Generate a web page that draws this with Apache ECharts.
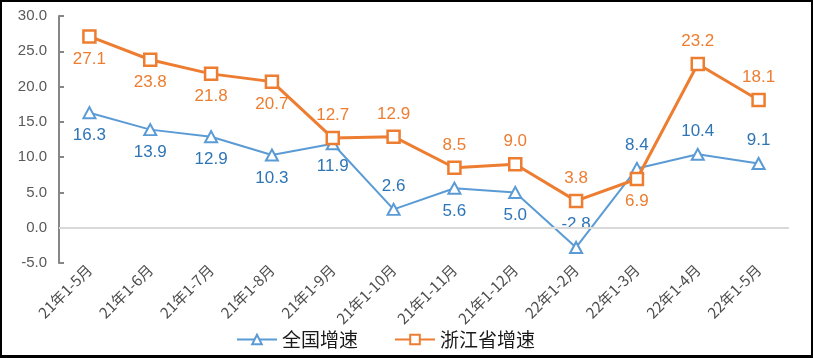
<!DOCTYPE html>
<html>
<head>
<meta charset="utf-8">
<script src="https://cdn.jsdelivr.net/npm/echarts@6/dist/echarts.min.js"></script>
<style>
html,body{margin:0;padding:0;background:#fff;}
#wrap{position:relative;width:813px;height:358px;}
#c{position:absolute;left:0;top:0;width:813px;height:358px;}
#frame{position:absolute;left:0;top:0;width:813px;height:358px;box-sizing:border-box;border:2px solid #000;border-bottom-width:3px;pointer-events:none;}
</style>
</head>
<body>
<div id="wrap"><div id="c"></div><div id="frame"></div></div>
<script>
const categories = ['21年1-5月','21年1-6月','21年1-7月','21年1-8月','21年1-9月','21年1-10月','21年1-11月','21年1-12月','22年1-2月','22年1-3月','22年1-4月','22年1-5月'];
const nationalGrowth = [16.3, 13.9, 12.9, 10.3, 11.9, 2.6, 5.6, 5.0, -2.8, 8.4, 10.4, 9.1];
const zhejiangGrowth = [27.1, 23.8, 21.8, 20.7, 12.7, 12.9, 8.5, 9.0, 3.8, 6.9, 23.2, 18.1];
const seriesNames = ['全国增速', '浙江省增速'];

// label placement (styling)
const blueLabelPlace = ['bottom','bottom','bottom','bottom','bottom','top','bottom','bottom','top','top','top','top'];
const orangeLabelPlace = ['bottom','bottom','bottom','bottom','top','top','top','top','top','bottom','top','top'];

const numFont = '"Liberation Sans", Arial, sans-serif';
const cjkFont = '"Noto Sans CJK SC", sans-serif';

function withLabels(values, places) {
  return values.map((v, i) => ({
    value: v,
    label: { position: places[i] }
  }));
}

const chart = echarts.init(document.getElementById('c'), null, { renderer: 'canvas' });
chart.setOption({
  animation: false,
  backgroundColor: '#fff',
  grid: { left: 59, right: 24, top: 16, bottom: 95 },
  legend: {
    left: 231, top: 325,
    itemWidth: 40, itemHeight: 12, itemGap: 36,
    textStyle: { fontFamily: cjkFont, fontSize: 19, color: '#1a1a1a' },
    data: seriesNames
  },
  xAxis: {
    type: 'category',
    data: categories,
    boundaryGap: true,
    axisLine: { show: false, onZero: false },
    axisTick: { show: false },
    axisLabel: { rotate: 45, margin: 4, fontFamily: cjkFont, fontSize: 15, color: '#4d4d4d', interval: 0 }
  },
  yAxis: {
    type: 'value',
    min: -5, max: 30, interval: 5,
    axisLine: { show: true, lineStyle: { color: '#868686', width: 2 } },
    axisTick: { show: true, inside: true, length: 5, lineStyle: { color: '#868686', width: 2 } },
    splitLine: { show: false },
    axisLabel: { formatter: v => v.toFixed(1), fontFamily: numFont, fontSize: 15, color: '#595959', margin: 12 }
  },
  series: [
    {
      name: seriesNames[0],
      type: 'line',
      data: withLabels(nationalGrowth, blueLabelPlace),
      symbol: 'triangle',
      symbolSize: [12, 11],
      showAllSymbol: true,
      itemStyle: { color: '#fff', borderColor: '#5B9BD5', borderWidth: 2 },
      lineStyle: { color: '#5B9BD5', width: 2 },
      label: { show: true, distance: 8, color: '#2E75B6', fontFamily: numFont, fontSize: 17, formatter: p => p.value.toFixed(1) },
      markLine: {
        silent: true, symbol: 'none', label: { show: false },
        lineStyle: { color: '#d9d9d9', width: 2, type: 'solid' },
        data: [{ yAxis: 0 }]
      },
      z: 2
    },
    {
      name: seriesNames[1],
      type: 'line',
      data: withLabels(zhejiangGrowth, orangeLabelPlace),
      symbol: 'rect',
      symbolSize: 12,
      showAllSymbol: true,
      itemStyle: { color: '#fff', borderColor: '#ED7D31', borderWidth: 2.5 },
      lineStyle: { color: '#ED7D31', width: 3 },
      label: { show: true, distance: 7, color: '#ED7D31', fontFamily: numFont, fontSize: 17, formatter: p => p.value.toFixed(1) },
      z: 3
    }
  ]
});
</script>
</body>
</html>
